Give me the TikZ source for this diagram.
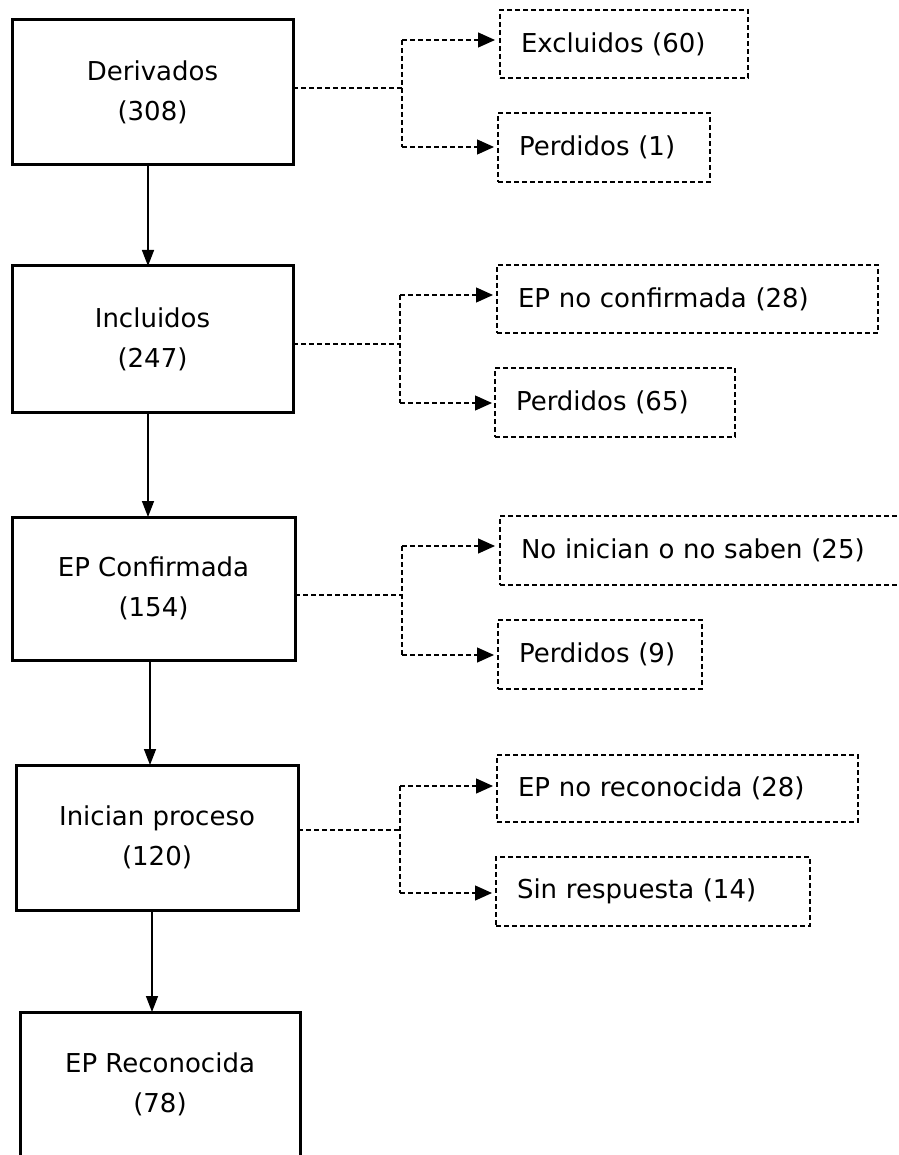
\documentclass[tikz,border=0pt]{standalone}
\usepackage{fontspec}
\setmainfont{DejaVu Sans}
\usetikzlibrary{arrows.meta}
\begin{document}
\begin{tikzpicture}[x=1pt,y=-1pt,
  font=\fontsize{26}{40}\selectfont,
  mainbox/.style={draw,line width=3pt,align=center,anchor=north west,inner sep=0pt,outer sep=0pt,minimum height=145pt},
  rbox/.style={draw,dash pattern=on 5pt off 3pt,line width=1.3pt,inner xsep=21pt,inner ysep=0pt,outer sep=0pt,align=left,anchor=north west,minimum height=68pt,text width=#1},
  dl/.style={line width=1.3pt,dash pattern=on 5pt off 3pt},
  tip/.style={-{Triangle[length=17pt,width=15pt]}},
  main/.style={line width=1.5pt,-{Triangle[length=16pt,width=12pt]}}]
\useasboundingbox (0,0) rectangle (898,1155);
\clip (0,0) rectangle (898,1155);
% main boxes
\node[mainbox,minimum width=281pt] (b1) at (12,20) {Derivados\\(308)};
\node[mainbox,minimum width=281pt,minimum height=146pt] (b2) at (12,266) {Incluidos\\(247)};
\node[mainbox,minimum width=283pt,minimum height=143pt] (b3) at (12,517) {EP Confirmada\\(154)};
\node[mainbox,minimum width=282pt] (b4) at (16,765) {Inician proceso\\(120)};
\node[mainbox,minimum width=280pt] (b5) at (20,1012) {EP Reconocida\\(78)};
% main arrows
\draw[main] ([xshift=-4.5pt]b1.south) -- ([xshift=-4.5pt]b1.south |- b2.north);
\draw[main] ([xshift=-4.5pt]b2.south) -- ([xshift=-4.5pt]b2.south |- b3.north);
\draw[main] ([xshift=-3.5pt]b3.south) -- ([xshift=-3.5pt]b3.south |- b4.north);
\draw[main] ([xshift=-5pt]b4.south) -- ([xshift=-5pt]b4.south |- b5.north);
% right boxes
\node[rbox=206pt] (r1) at (500,10) {Excluidos (60)};
\node[rbox=170pt,minimum height=69pt] (r2) at (498,113) {Perdidos (1)};
\node[rbox=339pt] (r3) at (497,265) {EP no confirmada (28)};
\node[rbox=198pt,minimum height=69pt] (r4) at (495,368) {Perdidos (65)};
\node[rbox=378pt,minimum height=69pt] (r5) at (500,516) {No inician o no saben (25)};
\node[rbox=162pt,minimum height=69pt] (r6) at (498,620) {Perdidos (9)};
\node[rbox=319pt,minimum height=67pt] (r7) at (497,755) {EP no reconocida (28)};
\node[rbox=272pt,minimum height=69pt] (r8) at (496,857) {Sin respuesta (14)};
% junction coordinates
\coordinate (m1) at (402,88);  \coordinate (t1) at (402,40);  \coordinate (u1) at (402,147);
\coordinate (m2) at (400,344); \coordinate (t2) at (400,295); \coordinate (u2) at (400,403);
\coordinate (m3) at (402,595); \coordinate (t3) at (402,546); \coordinate (u3) at (402,655);
\coordinate (m4) at (400,830); \coordinate (t4) at (400,786); \coordinate (u4) at (400,893);
% dashed connectors
\draw[dl] (m1 -| b1.east) -- (m1);
\draw[dl] (t1) -- (u1);
\draw[dl,tip,shorten >=5pt] (t1) -- (t1 -| r1.west);
\draw[dl,tip,shorten >=4pt] (u1) -- (u1 -| r2.west);
\draw[dl] (m2 -| b2.east) -- (m2);
\draw[dl] (t2) -- (u2);
\draw[dl,tip,shorten >=4pt] (t2) -- (t2 -| r3.west);
\draw[dl,tip,shorten >=3pt] (u2) -- (u2 -| r4.west);
\draw[dl] (m3 -| b3.east) -- (m3);
\draw[dl] (t3) -- (u3);
\draw[dl,tip,shorten >=5pt] (t3) -- (t3 -| r5.west);
\draw[dl,tip,shorten >=4pt] (u3) -- (u3 -| r6.west);
\draw[dl] (m4 -| b4.east) -- (m4);
\draw[dl] (t4) -- (u4);
\draw[dl,tip,shorten >=4pt] (t4) -- (t4 -| r7.west);
\draw[dl,tip,shorten >=4pt] (u4) -- (u4 -| r8.west);
\end{tikzpicture}
\end{document}
